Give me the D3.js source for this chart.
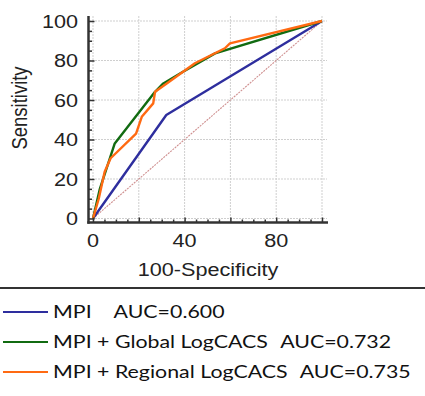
<!DOCTYPE html>
<html>
<head>
<meta charset="utf-8">
<script src="https://cdn.jsdelivr.net/npm/d3@7"></script>
<style>
  body { margin: 0; background: #fff; }
  svg { display: block; }
  .tick-label { font-family: "Liberation Sans", Arial, sans-serif; font-size: 18.5px; fill: #222; }
  .legend text { font-family: Lato, "Open Sans", sans-serif; font-size: 17.5px; fill: #111; }
</style>
</head>
<body>
<svg></svg>
<script>
const width = 425;
const height = 396;

// ROC curves: x = 100-Specificity, y = Sensitivity
const mpiX = [0, 32, 100];
const mpiY = [0, 52.4, 100];

const globalX = [0, 3, 9.5, 27, 30.7, 38, 53.3, 100];
const globalY = [0, 15, 38, 64, 68.4, 73.4, 83.6, 100];

const regionalX = [0, 2.5, 5.1, 7.7, 18.8, 21.3, 26.3, 27.1, 32.2, 44.5, 57.6, 59.8, 100];
const regionalY = [0, 10, 23.7, 30.5, 43, 51.5, 58.3, 64.2, 68.4, 78.6, 86.2, 88.7, 100];

const xTickLabels = [0, 40, 80];
const yTickLabels = [0, 20, 40, 60, 80, 100];
const gridValues = [0, 20, 40, 60, 80, 100];

const seriesNames = ["MPI", "MPI + Global LogCACS", "MPI + Regional LogCACS"];
const seriesAUC = ["0.600", "0.732", "0.735"];
const seriesColors = ["#2e2e9e", "#116b11", "#ff6a12"];

const svg = d3.select("svg").attr("width", width).attr("height", height);

const x = d3.scaleLinear().domain([0, 100]).range([93, 322]);
const y = d3.scaleLinear().domain([0, 100]).range([218.5, 21]);

const stretch = 1.17; // the original text is a bit wide

// grid
const grid = svg.append("g").attr("stroke", "#cfcfcf").attr("stroke-width", 1).attr("stroke-dasharray", "2,1");
grid.selectAll(".gx").data(gridValues).enter().append("line")
  .attr("x1", d => x(d)).attr("x2", d => x(d))
  .attr("y1", 16).attr("y2", 222);
grid.selectAll(".gy").data(gridValues).enter().append("line")
  .attr("y1", d => y(d)).attr("y2", d => y(d))
  .attr("x1", 89).attr("x2", 327);

// diagonal reference
svg.append("line")
  .attr("x1", x(0)).attr("y1", y(0)).attr("x2", x(100)).attr("y2", y(100))
  .attr("stroke", "#cf9090").attr("stroke-width", 1.1).attr("stroke-dasharray", "2,1");

// curves
const line = d3.line().x(d => x(d[0])).y(d => y(d[1]));
const curves = [
  d3.zip(mpiX, mpiY),
  d3.zip(globalX, globalY),
  d3.zip(regionalX, regionalY)
];
svg.selectAll(".roc").data(curves).enter().append("path")
  .attr("class", "roc")
  .attr("d", line)
  .attr("fill", "none")
  .attr("stroke", (d, i) => seriesColors[i])
  .attr("stroke-width", 2.4)
  .attr("stroke-linejoin", "round");

// axes
const xAxisY = 222.5;
const yAxisX = 88.5;

const yAxis = d3.axisRight(y).tickValues(d3.range(0, 101, 5)).tickSize(0).tickFormat("");
const yg = svg.append("g").attr("transform", `translate(${yAxisX},0)`).call(yAxis);
yg.select(".domain").remove();
yg.selectAll(".tick line").attr("x2", d => d % 20 === 0 ? 6 : 3.5).attr("stroke", "#333").attr("stroke-width", 1.5);

const xAxis = d3.axisTop(x).tickValues(d3.range(0, 101, 5)).tickSize(0).tickFormat("");
const xg = svg.append("g").attr("transform", `translate(0,${xAxisY})`).call(xAxis);
xg.select(".domain").remove();
xg.selectAll(".tick line").attr("y2", d => d % 20 === 0 ? -5 : -3).attr("stroke", "#333").attr("stroke-width", 1.5);

svg.append("line").attr("x1", yAxisX).attr("x2", yAxisX).attr("y1", 16).attr("y2", xAxisY + 1.2)
  .attr("stroke", "#333").attr("stroke-width", 2.5);
svg.append("line").attr("x1", yAxisX - 1.2).attr("x2", 328).attr("y1", xAxisY).attr("y2", xAxisY)
  .attr("stroke", "#333").attr("stroke-width", 2.5);

// tick labels
svg.selectAll(".ylab").data(yTickLabels).enter().append("text")
  .attr("class", "tick-label")
  .attr("transform", d => `translate(78,${y(d)}) scale(${stretch},1)`)
  .attr("dy", "0.36em")
  .attr("text-anchor", "end")
  .text(d => d);
svg.selectAll(".xlab").data(xTickLabels).enter().append("text")
  .attr("class", "tick-label")
  .attr("transform", d => `translate(${x(d)},247) scale(${stretch},1)`)
  .attr("text-anchor", "middle")
  .text(d => d);

// axis titles
svg.append("text").attr("class", "tick-label")
  .attr("transform", `translate(208,276) scale(${stretch},1)`)
  .attr("text-anchor", "middle")
  .text("100-Specificity");
svg.append("text").attr("class", "tick-label")
  .attr("transform", `translate(27,108) scale(${stretch},1) rotate(-90)`)
  .attr("text-anchor", "middle")
  .text("Sensitivity");

// separator
svg.append("line").attr("x1", 0).attr("x2", width).attr("y1", 288).attr("y2", 288)
  .attr("stroke", "#333").attr("stroke-width", 2);

// legend
const legend = svg.append("g").attr("class", "legend");
const rows = legend.selectAll("g").data(seriesNames).enter().append("g")
  .attr("transform", (d, i) => `translate(0,${312 + i * 30})`);
rows.append("line").attr("x1", 3).attr("x2", 48)
  .attr("stroke", (d, i) => seriesColors[i]).attr("stroke-width", 1.8);
const legendText = rows.append("text")
  .attr("transform", "translate(53,5.5) scale(1.22,1)");
legendText.append("tspan").text(d => d);
legendText.append("tspan")
  .attr("dx", (d, i) => i === 0 ? 18 : 10)
  .text((d, i) => "AUC=" + seriesAUC[i]);
</script>
</body>
</html>
